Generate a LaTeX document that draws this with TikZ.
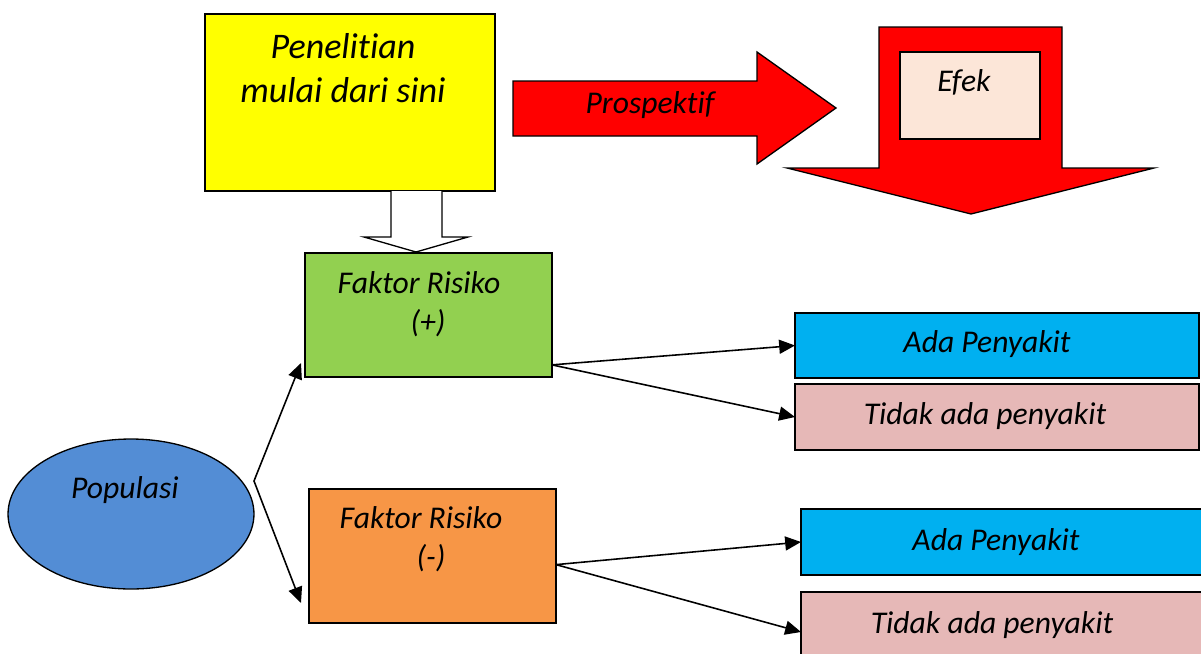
\documentclass[tikz,border=0pt]{standalone}
\usepackage{fontspec}
\setmainfont{Carlito}[Ligatures=NoCommon]
\usetikzlibrary{arrows.meta, positioning, calc, shapes.geometric}

\definecolor{kuning}{HTML}{FFFF00}
\definecolor{merah}{HTML}{FF0000}
\definecolor{krem}{HTML}{FCE6D8}
\definecolor{hijau}{HTML}{92D050}
\definecolor{oranye}{HTML}{F79646}
\definecolor{birumuda}{HTML}{00B0F0}
\definecolor{merahmuda}{HTML}{E6B8B7}
\definecolor{biru}{HTML}{538DD5}

\begin{document}
\begin{tikzpicture}[
        x=0.02cm, y=-0.02cm,
        every node/.style={inner sep=0pt, outer sep=0pt},
        kotak/.style={draw, line width=0.75pt, anchor=north west},
        teks/.style={anchor=base, font=\itshape\fontsize{18}{21.6}\selectfont},
        judul/.style={anchor=base, font=\itshape\fontsize{20.5}{24.6}\selectfont},
        panah/.style={line width=0.9pt}
    ]
        \useasboundingbox (0,0) rectangle (1201,653);

        % Kotak awal penelitian
        \node [kotak, fill=kuning, minimum width=5.8cm, minimum height=3.54cm](mulai) at (205,14) {};
        \node [judul](judul1) at (343,58) {Penelitian};
        \node [judul](judul2) at (343,102) {mulai dari sini};

        % Panah putih ke faktor risiko
        \draw [line width=0.75pt, fill=white] (391,191) -- (391,237) -- (364,237) -- (416,252)
            -- (468,237) -- (442,237) -- (442,191);

        % Panah merah prospektif
        \draw [line width=0.75pt, fill=merah] (513,81) -- (757,81) -- (757,52) -- (836,108)
            -- (757,164) -- (757,136) -- (513,136) -- cycle;
        \node [teks](prospektif) at (650,113) {Prospektif};

        % Panah merah ke bawah dengan kotak efek
        \draw [line width=0.75pt, fill=merah] (879,27) -- (1062,27) -- (1062,168) -- (1154,168)
            -- (971,214) -- (787,168) -- (879,168) -- cycle;
        \node [kotak, fill=krem, minimum width=2.8cm, minimum height=1.74cm](efek) at (900,52) {};
        \node [teks] at (964,91) {Efek};

        % Populasi dan faktor risiko
        \node [draw, line width=0.75pt, ellipse, fill=biru, minimum width=4.92cm, minimum height=3cm](populasi) at (131,514) {};
        \node [teks](tpop) at (125,498) {Populasi};

        \node [kotak, fill=hijau, minimum width=4.94cm, minimum height=2.48cm](fplus) at (305,253) {};
        \node [teks] at (419,293) {Faktor Risiko};
        \node [teks] at (428,332) {(+)};

        \node [kotak, fill=oranye, minimum width=4.94cm, minimum height=2.68cm](fminus) at (309,489) {};
        \node [teks] at (421,528) {Faktor Risiko};
        \node [teks] at (431,567) {(-)};

        % Hasil
        \node [kotak, fill=birumuda, minimum width=8.08cm, minimum height=1.3cm](ada1) at (795,313) {};
        \node [teks] at (987,352) {Ada Penyakit};
        \node [kotak, fill=merahmuda, minimum width=8.08cm, minimum height=1.32cm](tidak1) at (795,384) {};
        \node [teks] at (985,424) {Tidak ada penyakit};
        \node [kotak, fill=birumuda, minimum width=8.4cm, minimum height=1.32cm](ada2) at (801,509) {};
        \node [teks] at (996,550) {Ada Penyakit};
        \node [kotak, fill=merahmuda, minimum width=8.4cm, minimum height=1.6cm](tidak2) at (801,592) {};
        \node [teks] at (992,633) {Tidak ada penyakit};

        % Panah
        \coordinate (cabang) at (254,481);
        \coordinate (ujungA) at (301,363);
        \coordinate (ujungB) at (301,603);
        \draw [panah, {Triangle[length=9pt, width=8pt]}-{Triangle[length=9pt, width=8pt]}] (ujungA) -- (cabang) -- (ujungB);
        \draw [panah, -{Triangle[length=9pt, width=8pt]}] (fplus.-22) -- (ada1.west);
        \draw [panah, -{Triangle[length=9pt, width=8pt]}] (fplus.-22) -- (tidak1.west);
        \draw [panah, -{Triangle[length=9pt, width=8pt]}] (fminus.-4) -- (ada2.west);
        \draw [panah, -{Triangle[length=9pt, width=8pt]}] (fminus.-4) -- (tidak2.west);
    \end{tikzpicture}
\end{document}
